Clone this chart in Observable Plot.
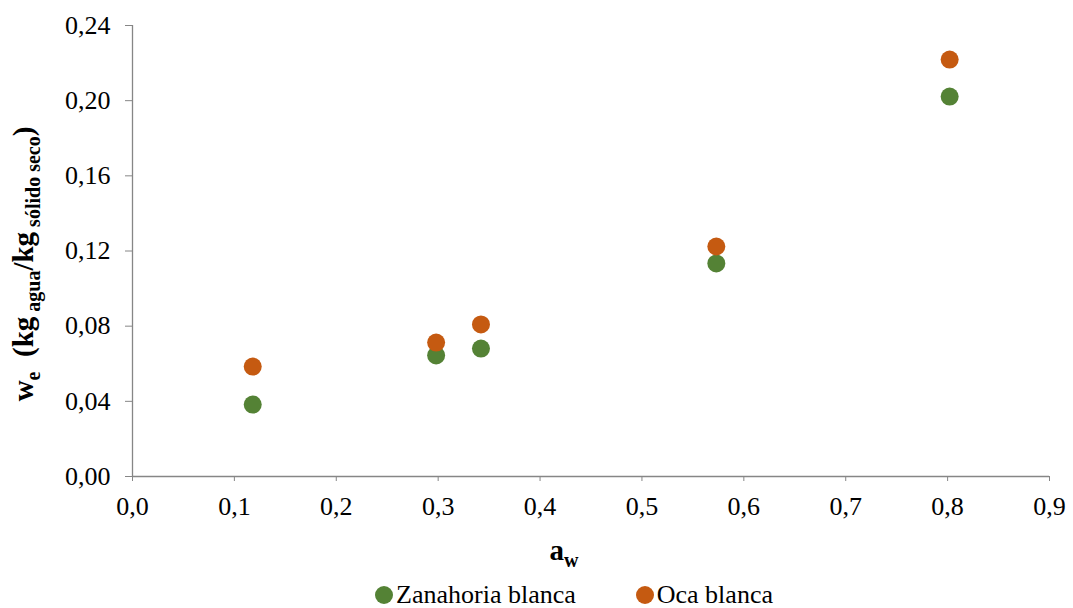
<!DOCTYPE html>
<html><head><meta charset="utf-8">
<script src="https://cdn.jsdelivr.net/npm/d3@7"></script>
<script src="https://cdn.jsdelivr.net/npm/@observablehq/plot@0.6"></script>
</head>
<body style="margin:0;padding:0;background:#fff;overflow:hidden;font-family:'Liberation Serif'">
<div id="chart"></div>
<div id="legend" style="display:flex;justify-content:center;gap:60px;font-size:26px;line-height:26px;height:26px;color:#000;margin-top:10px;padding-left:75px;font-family:'Liberation Serif'"></div>
<script>
const aw = [0.118, 0.298, 0.342, 0.573, 0.802];
const zanahoria = [0.0383, 0.0644, 0.0681, 0.1134, 0.2022];
const oca = [0.0585, 0.0713, 0.0809, 0.1224, 0.2219];
const seriesNames = ["Zanahoria blanca", "Oca blanca"];
const colors = ["#548235", "#C55A11"];
const xTicks = [0,0.1,0.2,0.3,0.4,0.5,0.6,0.7,0.8,0.9];
const yTicks = [0,0.04,0.08,0.12,0.16,0.20,0.24];

const data = [];
aw.forEach((a,i)=>{
  data.push({aw:a, we:zanahoria[i], s:seriesNames[0]});
  data.push({aw:a, we:oca[i], s:seriesNames[1]});
});
const fmtX = d => d.toFixed(1).replace(".", ",");
const fmtY = d => d.toFixed(2).replace(".", ",");
const plot = Plot.plot({
  width:1073, height:572,
  marginTop:25, marginBottom:96, marginLeft:132, marginRight:24,
  style:{fontFamily:"Liberation Serif", fontSize:"26px", color:"#000", background:"#fff", overflow:"visible"},
  x:{domain:[0,0.9], ticks:xTicks, tickFormat:fmtX, label:null},
  y:{domain:[0,0.24], ticks:yTicks, tickFormat:fmtY, label:null},
  color:{domain:seriesNames, range:colors},
  marks:[
    Plot.axisX({ticks:xTicks, tickFormat:fmtX, tickSize:5, tickPadding:15, stroke:"#868686", color:"#000", label:null}),
    Plot.axisY({ticks:yTicks, tickFormat:fmtY, tickSize:7, tickPadding:15, stroke:"#868686", color:"#000", label:null}),
    Plot.ruleY([0], {stroke:"#868686", strokeWidth:1.3}),
    Plot.ruleX([0], {stroke:"#868686", strokeWidth:1.3}),
    Plot.dot(data, {x:"aw", y:"we", fill:"s", r:9, stroke:null})
  ]
});
document.getElementById("chart").appendChild(plot);
const svg = d3.select(plot);
svg.style("display","block");
// y label
const yl = svg.append("text").attr("transform","translate(33,264) rotate(-90)")
  .attr("text-anchor","middle").attr("font-weight","bold").attr("font-size",29).attr("fill","#000");
yl.append("tspan").text("w");
yl.append("tspan").attr("font-size",20).attr("dy",7).text("e");
yl.append("tspan").attr("dy",-7).text("  (kg");
yl.append("tspan").attr("font-size",20).attr("dy",7).text(" agua");
yl.append("tspan").attr("dy",-7).text("/kg");
yl.append("tspan").attr("font-size",20).attr("dy",7).text(" sólido seco");
yl.append("tspan").attr("dy",-7).text(")");
// x label
const xl = svg.append("text").attr("x",564).attr("y",560).attr("text-anchor","middle")
  .attr("font-weight","bold").attr("font-size",29).attr("fill","#000");
xl.append("tspan").text("a");
xl.append("tspan").attr("font-size",20).attr("dy",7).text("w");

const leg = d3.select("#legend");
seriesNames.forEach((n,i)=>{
  const it = leg.append("span").style("display","flex").style("align-items","center");
  it.append("span").style("display","inline-block").style("width","18px").style("height","18px")
    .style("border-radius","50%").style("margin-right","3px").style("background",colors[i]);
  it.append("span").text(n);
});
</script></body></html>
